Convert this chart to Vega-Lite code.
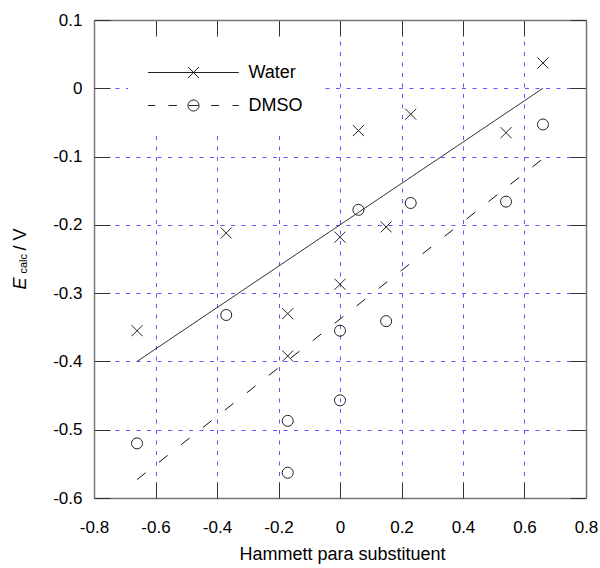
{
  "$schema": "https://vega.github.io/schema/vega-lite/v6.json",
  "width": 492,
  "height": 478,
  "autosize": {"type": "none"},
  "padding": {"left": 94, "top": 20, "right": 14, "bottom": 70},
  "background": "white",
  "view": {"stroke": null},
  "config": {
    "font": "Liberation Sans",
    "axis": {"labelFont": "Liberation Sans", "titleFont": "Liberation Sans", "labelColor": "#000", "titleColor": "#000", "titleFontWeight": "normal"}
  },
  "datasets": {
    "pts": [
      {"solvent": "Water", "sigma": -0.66, "E": -0.355},
      {"solvent": "Water", "sigma": -0.37, "E": -0.212},
      {"solvent": "Water", "sigma": -0.17, "E": -0.330},
      {"solvent": "Water", "sigma": -0.17, "E": -0.392},
      {"solvent": "Water", "sigma": 0, "E": -0.218},
      {"solvent": "Water", "sigma": 0, "E": -0.287},
      {"solvent": "Water", "sigma": 0.06, "E": -0.062},
      {"solvent": "Water", "sigma": 0.15, "E": -0.203},
      {"solvent": "Water", "sigma": 0.23, "E": -0.038},
      {"solvent": "Water", "sigma": 0.54, "E": -0.065},
      {"solvent": "Water", "sigma": 0.66, "E": 0.037},
      {"solvent": "DMSO", "sigma": -0.66, "E": -0.520},
      {"solvent": "DMSO", "sigma": -0.37, "E": -0.332},
      {"solvent": "DMSO", "sigma": -0.17, "E": -0.487},
      {"solvent": "DMSO", "sigma": -0.17, "E": -0.563},
      {"solvent": "DMSO", "sigma": 0, "E": -0.355},
      {"solvent": "DMSO", "sigma": 0, "E": -0.457},
      {"solvent": "DMSO", "sigma": 0.06, "E": -0.178},
      {"solvent": "DMSO", "sigma": 0.15, "E": -0.341},
      {"solvent": "DMSO", "sigma": 0.23, "E": -0.168},
      {"solvent": "DMSO", "sigma": 0.54, "E": -0.166},
      {"solvent": "DMSO", "sigma": 0.66, "E": -0.053}
    ],
    "fits": [
      {"solvent": "Water", "sigma": -0.66, "E": -0.400},
      {"solvent": "Water", "sigma": 0.66, "E": 0.000},
      {"solvent": "DMSO", "sigma": -0.66, "E": -0.573},
      {"solvent": "DMSO", "sigma": 0.66, "E": -0.103}
    ]
  },
  "layer": [
    {
      "data": {"name": "pts"},
      "transform": [{"filter": "datum.solvent === 'Water'"}],
      "mark": {"type": "point", "shape": "M-1,-1L1,1M-1,1L1,-1", "size": 121, "filled": false, "color": "#222", "strokeWidth": 1, "opacity": 1},
      "encoding": {
        "x": {
          "field": "sigma", "type": "quantitative",
          "scale": {"domain": [-0.8, 0.8], "nice": false, "zero": false},
          "axis": {
            "orient": "bottom",
            "values": [-0.8, -0.6, -0.4, -0.2, 0, 0.2, 0.4, 0.6, 0.8],
            "labelExpr": "datum.value == 0 ? '0' : (datum.value < 0 ? '-' + format(-datum.value, '.1f') : format(datum.value, '.1f'))",
            "labelFontSize": 17, "labelPadding": 21, "labelFlush": false, "labelOverlap": false,
            "ticks": false,
            "domain": true, "domainColor": "#777", "domainWidth": 1.5,
            "grid": true, "gridColor": "#5a5aff", "gridDash": [4, 6.5], "gridWidth": 1,
            "title": "Hammett para substituent", "titleFontSize": 18,
            "titleX": 248, "titleY": 61, "titleBaseline": "alphabetic", "titleAlign": "center"
          }
        },
        "y": {
          "field": "E", "type": "quantitative",
          "scale": {"domain": [-0.6, 0.1], "nice": false, "zero": false},
          "axis": {
            "orient": "left",
            "values": [-0.6, -0.5, -0.4, -0.3, -0.2, -0.1, 0, 0.1],
            "labelExpr": "datum.value == 0 ? '0' : (datum.value < 0 ? '-' + format(-datum.value, '.1f') : format(datum.value, '.1f'))",
            "labelFontSize": 17, "labelPadding": 12, "labelFlush": false, "labelOverlap": false,
            "ticks": false,
            "domain": true, "domainColor": "#777", "domainWidth": 1.5,
            "grid": true, "gridColor": "#5a5aff", "gridDash": [4, 6.5], "gridWidth": 1,
            "title": "E", "titleFontStyle": "italic", "titleFontSize": 18,
            "titleAngle": 270, "titleAlign": "left", "titleBaseline": "alphabetic",
            "titleX": -69, "titleY": 269
          }
        }
      }
    },
    {
      "data": {"name": "pts"},
      "transform": [{"filter": "datum.solvent === 'DMSO'"}],
      "mark": {"type": "point", "shape": "circle", "size": 121, "filled": false, "color": "#222", "strokeWidth": 1, "opacity": 1},
      "encoding": {
        "x": {"field": "sigma", "type": "quantitative", "axis": null},
        "y": {
          "field": "E", "type": "quantitative",
          "axis": {
            "orient": "left", "domain": false, "ticks": false, "labels": false, "grid": false,
            "title": "/ V", "titleFontSize": 18, "titleAngle": 270, "titleAlign": "left", "titleBaseline": "alphabetic",
            "titleX": -69, "titleY": 230
          }
        }
      }
    },
    {
      "data": {"name": "fits"},
      "mark": {"type": "line", "color": "#111", "strokeWidth": 1},
      "encoding": {
        "x": {
          "field": "sigma", "type": "quantitative",
          "axis": {
            "orient": "top", "values": [-0.8, -0.6, -0.4, -0.2, 0, 0.2, 0.4, 0.6, 0.8],
            "labels": false, "ticks": true, "tickSize": -16, "tickColor": "#333", "tickWidth": 1,
            "domain": true, "domainColor": "#777", "domainWidth": 1.5, "grid": false, "title": null
          }
        },
        "y": {
          "field": "E", "type": "quantitative",
          "axis": {
            "orient": "right", "values": [-0.6, -0.5, -0.4, -0.3, -0.2, -0.1, 0, 0.1],
            "labels": false, "ticks": true, "tickSize": -16, "tickColor": "#333", "tickWidth": 1,
            "domain": true, "domainColor": "#777", "domainWidth": 1.5, "grid": false, "title": null
          }
        },
        "strokeDash": {
          "field": "solvent", "type": "nominal",
          "scale": {"domain": ["DMSO", "Water"], "range": [[11, 17], [1, 0]]},
          "legend": null
        }
      }
    },
    {
      "data": {"name": "fits"},
      "mark": {"type": "point", "filled": false, "color": "#222", "size": 900, "strokeWidth": 1, "opacity": 0},
      "encoding": {
        "x": {
          "field": "sigma", "type": "quantitative",
          "axis": {
            "orient": "bottom", "values": [-0.8, -0.6, -0.4, -0.2, 0, 0.2, 0.4, 0.6, 0.8],
            "labels": false, "ticks": true, "tickSize": -16, "tickColor": "#333", "tickWidth": 1,
            "domain": false, "grid": false, "title": null
          }
        },
        "y": {
          "field": "E", "type": "quantitative",
          "axis": {
            "orient": "left", "values": [-0.6, -0.5, -0.4, -0.3, -0.2, -0.1, 0, 0.1],
            "labels": false, "ticks": true, "tickSize": -16, "tickColor": "#333", "tickWidth": 1,
            "domain": false, "grid": false,
            "title": "calc", "titleFontSize": 11, "titleAngle": 270, "titleAlign": "left", "titleBaseline": "alphabetic",
            "titleX": -67.5, "titleY": 253
          }
        },
        "shape": {
          "field": "solvent", "type": "nominal",
          "scale": {
            "domain": ["Water", "DMSO"],
            "range": [
              "M-3.04,0L3.02,0M-0.37,-0.37L0.37,0.37M-0.37,0.37L0.37,-0.37",
              "M-3.04,0L-2.55,0M-1.67,0L-1.11,0M-0.33,0L0.33,0M1.18,0L1.71,0M2.6,0L3.02,0M-0.37,0A0.37,0.37,0,1,0,0.37,0A0.37,0.37,0,1,0,-0.37,0"
            ]
          },
          "legend": {
            "title": null, "orient": "none", "direction": "vertical",
            "legendX": 34, "legendY": 17, "padding": 20, "fillColor": "white",
            "symbolSize": 900, "symbolOffset": 30, "labelOffset": 39.5,
            "symbolStrokeWidth": 1, "symbolStrokeColor": "#222", "symbolFillColor": "transparent", "symbolOpacity": 1,
            "labelFontSize": 18, "labelFont": "Liberation Sans", "labelColor": "#000", "rowPadding": 8
          }
        }
      }
    }
  ],
  "resolve": {"axis": {"x": "independent", "y": "independent"}}
}
